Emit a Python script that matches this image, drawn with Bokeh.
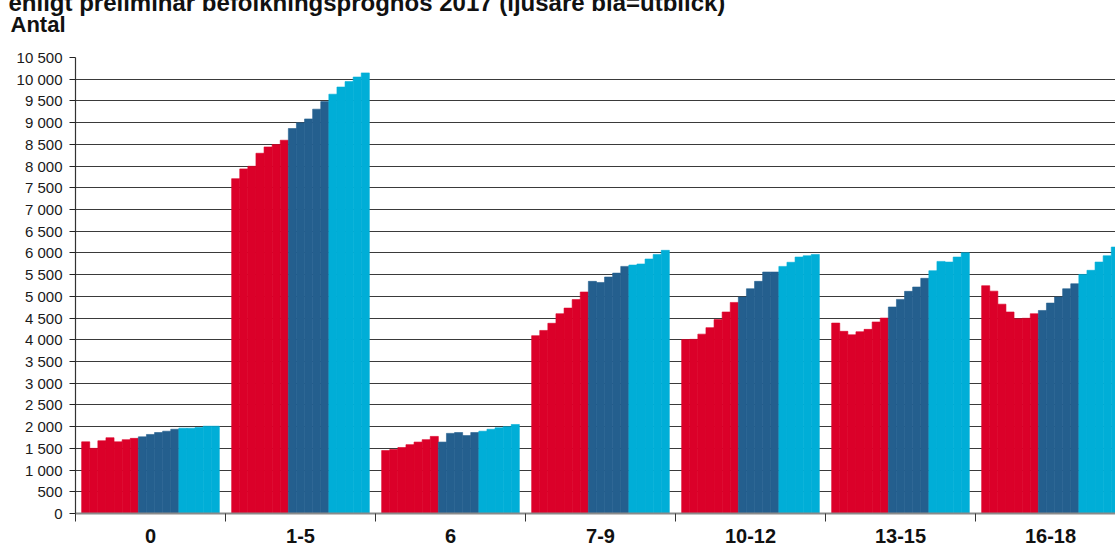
from bokeh.plotting import figure
from bokeh.models import ColumnDataSource, Range1d, FixedTicker, Title
from bokeh.embed import file_html
from bokeh.resources import INLINE

# ---------------- data ----------------
age_groups = ["0", "1-5", "6", "7-9", "10-12", "13-15", "16-18"]
years = list(range(2010, 2027))  # 7 observed (red), 5 prognosis (dark blue), 5 outlook (light blue)

antal_0 = [1650, 1500, 1675, 1745, 1650, 1700, 1730, 1765, 1820, 1865, 1895, 1940, 1965, 1965, 1980, 2010, 2010]
antal_1_5 = [7710, 7935, 7995, 8295, 8440, 8495, 8595, 8865, 8995, 9085, 9310, 9485, 9655, 9820, 9945, 10050, 10145]
antal_6 = [1450, 1475, 1520, 1585, 1645, 1700, 1775, 1645, 1845, 1865, 1795, 1865, 1895, 1940, 1975, 2000, 2050]
antal_7_9 = [4095, 4215, 4380, 4600, 4730, 4925, 5100, 5345, 5320, 5445, 5535, 5690, 5720, 5745, 5860, 5965, 6060]
antal_10_12 = [4005, 4010, 4130, 4280, 4465, 4640, 4860, 4985, 5175, 5345, 5560, 5560, 5690, 5785, 5905, 5935, 5965]
antal_13_15 = [4385, 4195, 4115, 4185, 4240, 4410, 4500, 4755, 4930, 5115, 5215, 5415, 5590, 5805, 5790, 5905, 6005]
antal_16_18 = [5245, 5120, 4820, 4640, 4485, 4495, 4600, 4675, 4845, 4985, 5175, 5290, 5505, 5600, 5790, 5935, 6135]

series = [antal_0, antal_1_5, antal_6, antal_7_9, antal_10_12, antal_13_15, antal_16_18]

y_ticks = list(range(0, 10501, 500))
y_tick_labels = {t: f"{t:,}".replace(",", " ") for t in y_ticks}

title_text = "enligt preliminär befolkningsprognos 2017 (ljusare blå=utblick)"
y_title = "Antal"

RED = "#DB0029"
DARK = "#245F8E"
LIGHT = "#00AED7"


def year_color(y):
    if y <= 2016:
        return RED
    if y <= 2021:
        return DARK
    return LIGHT


# ---------------- layout ----------------
W, H = 1115, 550
FRAME_LEFT, FRAME_TOP, FRAME_BOTTOM = 75, 57, 513
GROUP_PX = 150.0
step = 8.1 / GROUP_PX
start = (1.0 - step * len(years)) / 2.0
x_end = (W - FRAME_LEFT) / GROUP_PX

p = figure(width=W, height=H, output_backend="svg", toolbar_location=None, title=None,
           x_range=Range1d(0, x_end), y_range=Range1d(0, 10500),
           min_border_left=FRAME_LEFT, min_border_right=0, min_border_top=FRAME_TOP,
           min_border_bottom=H - FRAME_BOTTOM,
           background_fill_color="white", border_fill_color="white")
p.outline_line_color = None

xs, tops, cols = [], [], []
for g, vals in enumerate(series):
    for k, v in enumerate(vals):
        xs.append(g + start + (k + 0.5) * step)
        tops.append(v)
        cols.append(year_color(years[k]))
src = ColumnDataSource(dict(x=xs, top=tops, color=cols))
p.vbar(x="x", top="top", bottom=0, width=step, fill_color="color", line_color="color",
       line_width=0.6, source=src)

# y axis
yax = p.yaxis[0]
yax.ticker = FixedTicker(ticks=y_ticks)
yax.major_label_overrides = y_tick_labels
yax.major_label_text_font = "Liberation Sans"
yax.major_label_text_font_size = "15px"
yax.major_label_text_color = "#1a1a1a"
yax.major_label_standoff = 7
yax.major_tick_out = 6
yax.major_tick_in = 0
yax.major_tick_line_color = "#222222"
yax.minor_tick_line_color = None
yax.axis_line_color = "#333333"
yax.axis_line_width = 1.2

# x axis
xax = p.xaxis[0]
centers = [i + 0.5 for i in range(len(age_groups))]
xax.ticker = FixedTicker(ticks=centers, minor_ticks=list(range(len(age_groups) + 1)))
xax.major_label_overrides = {c: lab for c, lab in zip(centers, age_groups)}
xax.major_label_text_font = "Liberation Sans"
xax.major_label_text_font_style = "bold"
xax.major_label_text_font_size = "20px"
xax.major_label_text_color = "#111111"
xax.major_label_standoff = 7
xax.major_tick_line_color = None
xax.major_tick_out = 8
xax.major_tick_in = 0
xax.minor_tick_out = 8
xax.minor_tick_in = 0
xax.minor_tick_line_color = "#333333"
xax.axis_line_color = "#8a8a8a"
xax.axis_line_width = 2

# grid
p.xgrid.visible = False
p.ygrid.ticker = FixedTicker(ticks=y_ticks)
p.ygrid.grid_line_color = "#3a3a3a"
p.ygrid.grid_line_width = 1.2

# texts above the frame (stacked from the frame outward)
p.add_layout(Title(text=" ", text_font_size="8px", standoff=1), "above")  # spacer
p.add_layout(Title(text=y_title, align="left", offset=10 - FRAME_LEFT, standoff=18,
                   vertical_align="bottom", text_font="Liberation Sans",
                   text_font_style="bold", text_font_size="22px", text_color="#111111"),
             "above")
p.add_layout(Title(text=title_text, align="left", offset=8 - FRAME_LEFT, standoff=-30,
                   vertical_align="bottom", text_font="Liberation Sans",
                   text_font_style="bold", text_font_size="24px", text_color="#111111"),
             "above")

open("out.html", "w").write(file_html(p, INLINE))
